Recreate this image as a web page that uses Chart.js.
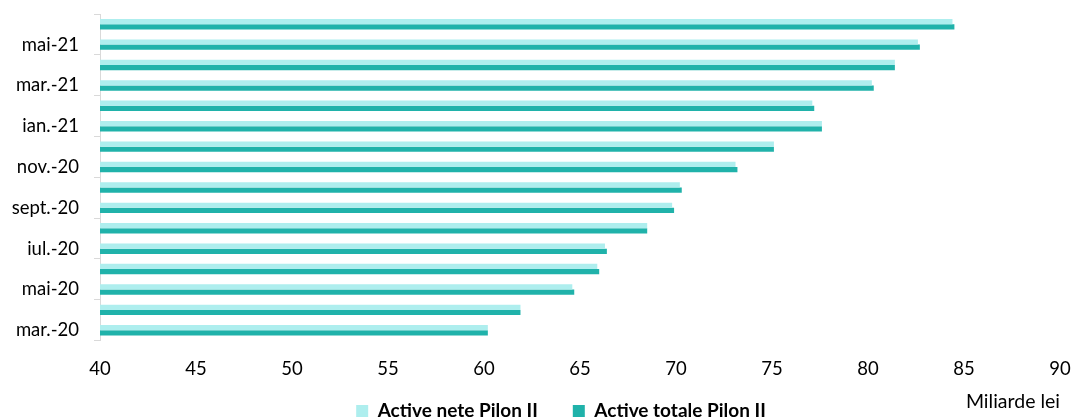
<!DOCTYPE html>
<html>
<head>
<meta charset="utf-8">
<script src="https://cdn.jsdelivr.net/npm/chart.js@4"></script>
<style>
  html, body { margin: 0; padding: 0; background: #fff; }
</style>
</head>
<body>
<canvas id="Chart" width="1074" height="419"></canvas>
<script>
'use strict';
// luni (de jos in sus)
const luni = ['mar.-20', 'apr.-20', 'mai-20', 'iun.-20', 'iul.-20', 'aug.-20', 'sept.-20', 'oct.-20',
  'nov.-20', 'dec.-20', 'ian.-21', 'feb.-21', 'mar.-21', 'apr.-21', 'mai-21', 'iun.-21'];
// active nete si totale, miliarde lei
const activeNete = [60.2, 61.9, 64.6, 65.9, 66.3, 68.5, 69.8, 70.2, 73.1, 75.1, 77.6, 77.1, 80.2, 81.4, 82.6, 84.4];
const activeTotale = [60.2, 61.9, 64.7, 66.0, 66.4, 68.5, 69.9, 70.3, 73.2, 75.1, 77.6, 77.2, 80.3, 81.4, 82.7, 84.5];
// axa x
const axaMin = 40;
const axaMax = 90;
const pas = 5;

Chart.defaults.font.family = 'Lato';
Chart.defaults.color = '#000';

// muta legenda putin spre dreapta si in sus, peste zona axei x
const mutaLegenda = {
  id: 'mutaLegenda',
  afterLayout(chart) {
    chart.legend.left += 62;
    chart.legend.top -= 15;
  }
};

const ctx = document.getElementById('Chart').getContext('2d');
new Chart(ctx, {
  type: 'bar',
  data: {
    labels: luni,
    datasets: [
      { label: 'Active nete Pilon II', data: activeNete, backgroundColor: '#aeeeee' },
      { label: 'Active totale Pilon II', data: activeTotale, backgroundColor: '#20b2aa' }
    ]
  },
  plugins: [mutaLegenda],
  options: {
    indexAxis: 'y',
    responsive: false,
    animation: false,
    devicePixelRatio: 1,
    barPercentage: 1,
    categoryPercentage: 0.51,
    layout: { padding: { top: 14, right: 14, left: 0, bottom: 0 } },
    plugins: {
      tooltip: { enabled: false },
      legend: {
        position: 'bottom',
        maxHeight: 37.5,
        labels: { boxWidth: 12, boxHeight: 12, padding: 35, font: { size: 19, weight: 'bold' } }
      }
    },
    scales: {
      x: {
        min: axaMin,
        max: axaMax,
        afterFit: (scale) => {
          scale.paddingLeft = 0;
          scale.paddingRight = 0;
        },
        grid: { display: false, drawTicks: false },
        border: { display: false },
        ticks: { stepSize: pas, padding: 17.4, font: { size: 18.5 } },
        title: {
          display: true,
          text: 'Miliarde lei',
          align: 'end',
          font: { size: 19.5 },
          padding: { top: -7.2, bottom: -32.2 }
        }
      },
      y: {
        reverse: true,
        offset: true,
        afterFit: (scale) => {
          scale.width = 100;
          scale.paddingTop = 0;
          scale.paddingBottom = 0;
        },
        grid: {
          offset: true,
          drawOnChartArea: false,
          tickLength: 6,
          // liniuta la fiecare doua luni
          color: (c) => (c.index === undefined || c.index % 2 === 0) ? '#d9d9d9' : 'rgba(0,0,0,0)'
        },
        border: { display: true, color: '#d9d9d9' },
        ticks: {
          autoSkip: false,
          padding: 15,
          font: { size: 18.5 },
          callback: (val, i) => i % 2 === 0 ? luni[i] : ''
        }
      }
    }
  }
});
</script>
</body>
</html>
